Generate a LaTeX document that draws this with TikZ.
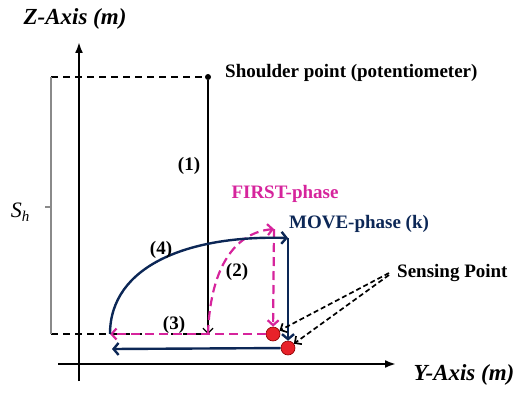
\documentclass[tikz,border=0pt]{standalone}
\usepackage{fontspec}
\setmainfont{Liberation Serif}
\usetikzlibrary{arrows.meta}
\definecolor{pathnavy}{HTML}{0C2756}
\definecolor{firstpink}{HTML}{D6249C}
\definecolor{sensered}{HTML}{E8222A}
\definecolor{bracketgray}{HTML}{8A8A8A}
\newcommand{\labfont}{\fontsize{19}{21}\selectfont\bfseries}
\newcommand{\axfont}{\fontsize{23}{25}\selectfont\bfseries\itshape}
\newcommand{\sensedot}[2]{\node[sensedot] (#1) at (#2) {};}

\begin{document}
\begin{tikzpicture}[x=1pt, y=-1pt,
  axisline/.style={line width=2.8pt, -{Latex[length=11pt,width=8pt]}},
  guide/.style={black, line width=1.4pt, dash pattern=on 7pt off 5pt},
  bracket/.style={bracketgray, line width=1.3pt},
  reachline/.style={black, line width=1.2pt, -{Straight Barb[length=5pt,width=10pt]}},
  firstpath/.style={firstpink, line width=2.2pt, dash pattern=on 9pt off 5pt, -{Straight Barb[length=5pt,width=11pt]}},
  movepath/.style={pathnavy, line width=2.4pt, -{Straight Barb[length=5pt,width=12pt]}},
  sensearrow/.style={black, line width=1.7pt, dash pattern=on 5pt off 3pt, -{Straight Barb[length=5pt,width=10pt]}},
  sensedot/.style={circle, fill=sensered, draw=red!55!black, line width=0.6pt, minimum size=14pt, inner sep=0pt},
  lab/.style={font=\labfont, inner sep=0pt}]

  \useasboundingbox (0,0) rectangle (518,401);

  % axes
  \coordinate (zfoot) at (79,381);
  \coordinate (ztip) at (79,42);
  \coordinate (yfoot) at (58,364);
  \coordinate (ytip) at (396,364);
  \draw[axisline] (zfoot) -- (ztip);
  \draw[axisline] (yfoot) -- (ytip);
  \node[font=\axfont, inner sep=0pt] (zlabel) at (75,19) {Z-Axis (m)};
  \node[font=\axfont, inner sep=0pt] (ylabel) at (464,375) {Y-Axis (m)};

  % shoulder height
  \node[circle, fill=black, minimum size=6pt, inner sep=0pt] (shoulder) at (208,77) {};
  \node[lab, anchor=west] (shoulderlabel) at (225,73) {Shoulder point (potentiometer)};
  \coordinate (topleft) at (51,77);
  \coordinate (leftbase) at (51,334);
  \coordinate (basefoot) at (208,334);
  \coordinate (shtick) at (51,207);
  \draw[guide] (topleft) -- (shoulder);
  \draw[guide] (leftbase) -- (basefoot);
  \draw[bracket] (topleft) -- (leftbase);
  \draw[bracket] (shtick) -- ++(-6,0);
  \node[inner sep=0pt, font=\fontsize{22}{24}\selectfont] (shlabel) at (20,212) {\textit{S}\raisebox{-0.35ex}{\fontsize{15}{15}\selectfont\textit{h}}};

  % sensing points
  \sensedot{firstdot}{273,334}
  \sensedot{movedot}{288,348}

  % (1) reach down
  \draw[reachline] (shoulder) -- (basefoot);
  \node[lab] (one) at (189,166) {(1)};

  % FIRST-phase
  \coordinate (firsttop) at (274,229);
  \coordinate (returnpt) at (110,334);
  \draw[firstpath] (basefoot) .. controls (210,272) and (232,233) .. (firsttop);
  \draw[firstpath] (firsttop) -- (firstdot);
  \draw[firstpath] (firstdot) -- (returnpt);
  \node[lab, text=firstpink] (firstlabel) at (285,194) {FIRST-phase};
  \node[lab] (two) at (237,272) {(2)};
  \node[lab] (three) at (174,325) {(3)};

  % MOVE-phase
  \coordinate (movetop) at (288,238);
  \coordinate (movestop) at (112,349);
  \draw[movepath] (returnpt) .. controls (110,265) and (190,235) .. (movetop);
  \draw[movepath] (movetop) -- (movedot);
  \draw[movepath] (movedot) -- (movestop);
  \node[lab, text=pathnavy] (movelabel) at (359,224) {MOVE-phase (k)};
  \node[lab] (four) at (161,250) {(4)};

  % sensing label
  \node[lab, anchor=west] (senselabel) at (397,273) {Sensing Point};
  \draw[sensearrow] ([xshift=-8pt]senselabel.west) -- (firstdot);
  \draw[sensearrow] ([xshift=-8pt,yshift=-2pt]senselabel.west) -- (movedot);

\end{tikzpicture}
\end{document}
